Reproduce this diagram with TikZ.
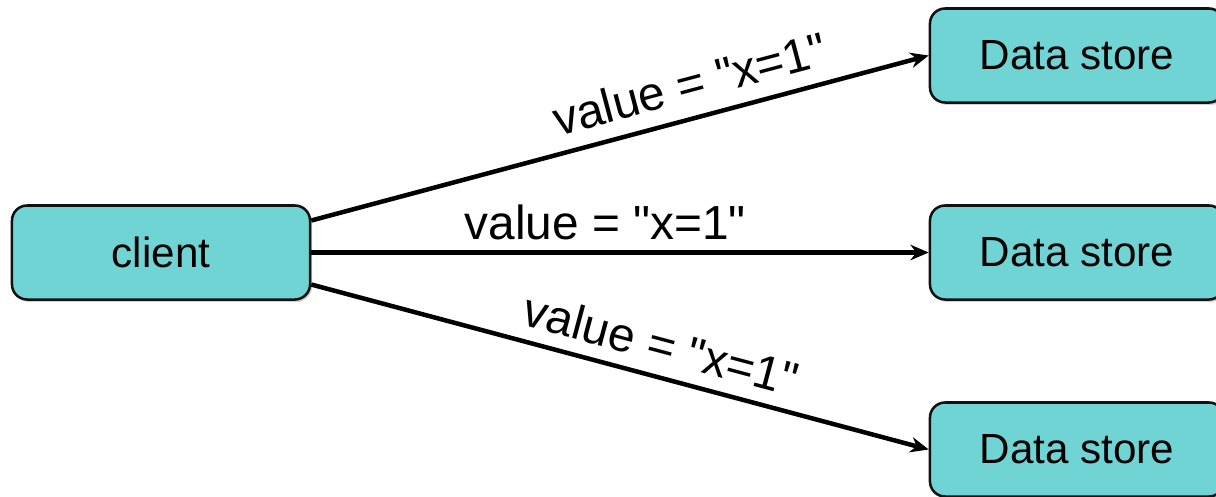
\documentclass[tikz,border=0pt]{standalone}
\usepackage{fontspec}
\setmainfont{Liberation Sans}[Ligatures=TeXOff]
\usetikzlibrary{arrows.meta,shadows}
\definecolor{boxfill}{HTML}{70D4D4}
\definecolor{boxink}{HTML}{111111}

\begin{document}
\begin{tikzpicture}[
  x=0.025cm,
  y=-0.025cm,
  every node/.style={font=\fontsize{30}{36}\selectfont, text=black},
  machine/.style={draw=boxink, fill=boxfill, line width=1.8pt,
                  rounded corners=0.38cm, minimum height=2.35cm,
                  drop shadow={shadow xshift=0.05cm, shadow yshift=-0.06cm,
                               opacity=0.35}},
  send/.style={black, line width=3.2pt, -{Stealth[length=13pt, width=11pt]}},
  payload/.style={sloped, above, font=\fontsize{34}{40}\selectfont}
]
  % ---- fixed frame, same size as the source image ----
  \useasboundingbox (0,0) rectangle (1216,496);

  % ---- sender ----
  \node[machine, minimum width=7.45cm] (client) at (161,252.5) {client};

  % ---- replicas ----
  \node[machine, minimum width=7.35cm] (store1) at (1077,55.5) {Data store};
  \node[machine, minimum width=7.35cm] (store2) at (1077,252.5) {Data store};
  \node[machine, minimum width=7.35cm] (store3) at (1077,449.5) {Data store};

  % ---- writes ----
  \draw[send] ([yshift=0.8cm]client.east) -- (store1.west)
    node[payload, pos=0.627, inner sep=10.5pt] {value = "x=1"};
  \draw[send] (client.east) -- (store2.west)
    node[payload, pos=0.476, inner sep=7pt] {value = "x=1"};
  \draw[send] ([yshift=-0.8cm]client.east) -- (store3.west)
    node[payload, pos=0.553, inner sep=9pt] {value = "x=1"};
\end{tikzpicture}
\end{document}
